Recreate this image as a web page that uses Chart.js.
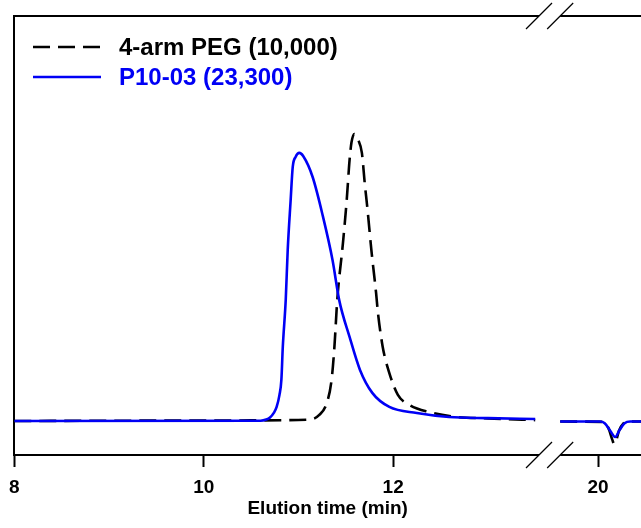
<!DOCTYPE html>
<html>
<head>
<meta charset="utf-8">
<script src="https://cdn.jsdelivr.net/npm/chart.js@4"></script>
<style>
  html, body { margin: 0; padding: 0; background: #fff; }
  #wrap { width: 641px; height: 528px; }
</style>
</head>
<body>
<div id="wrap"><canvas id="gpcChart" width="641" height="528"></canvas></div>
<script>
// GPC traces (elution time in min, detector signal normalised to PEG peak = 100)
const pegTime = [8.0, 10.5, 11.12, 11.22, 11.30, 11.35, 11.38, 11.41, 11.47, 11.51, 11.54, 11.56, 11.59, 11.63, 11.67, 11.70, 11.73, 11.77, 11.82, 11.84, 11.89, 11.96, 12.05, 12.17, 12.38, 12.67, 13.0, 13.5,
                 19.6, 20.05, 20.11, 20.15, 20.17, 20.19, 20.22, 20.27, 20.32, 20.62];
const pegSignal = [0, 0.2, 0.5, 2.1, 6.3, 14.3, 25.8, 42.2, 62.0, 77.0, 90.9, 97.0, 100, 98.0, 93.4, 82.9, 73.5, 59.6, 44.6, 37.6, 25.8, 16.7, 9.1, 5.6, 3.1, 1.4, 0.9, 0.3,
                   -0.2, -0.3, -2.5, -6.5, -8.0, -7.0, -3.5, -0.8, -0.2, -0.2];

const polyTime = [8.0, 10.60, 10.66, 10.70, 10.74, 10.77, 10.80, 10.82, 10.835, 10.866, 10.887, 10.918, 10.94, 10.97, 11.01, 11.05, 11.15, 11.26, 11.36, 11.43, 11.54, 11.65, 11.78, 11.96, 12.25, 12.59, 13.0, 13.5,
                  19.6, 20.02, 20.07, 20.13, 20.18, 20.23, 20.28, 20.34, 20.62];
const polySignal = [0, 0.1, 0.5, 1.2, 2.8, 4.9, 9.1, 14.3, 25.8, 42.2, 59.6, 77.0, 88.5, 92.0, 93.4, 92.3, 85.0, 71.1, 56.1, 42.2, 29.3, 17.8, 9.8, 4.9, 2.8, 1.4, 1.0, 0.7,
                    -0.2, -0.2, -0.8, -3.5, -5.6, -3.0, -0.8, -0.2, -0.2];

const seriesLabels = ['4-arm PEG (10,000)', 'P10-03 (23,300)'];
const xTickValues = [8, 10, 12, 20];

// broken x axis: everything after the break is shifted left
const BREAK_START = 13.5;
const BREAK_END = 19.6;
const SHIFT = 5.8364;
const X_MIN = 8;
const X_MAX = 14.617;

const BLUE = '#0000f5';

function toAxis(t) {
  return t >= BREAK_END ? t - SHIFT : t;
}

function fromAxis(v) {
  return v > BREAK_START + 0.01 ? v + SHIFT : v;
}

function buildPoints(times, values) {
  const pts = [];
  for (let i = 0; i < times.length; i++) {
    if (i > 0 && times[i - 1] <= BREAK_START && times[i] >= BREAK_END) {
      pts.push({ x: BREAK_START + 0.1, y: null });
    }
    pts.push({ x: toAxis(times[i]), y: values[i] });
  }
  return pts;
}

// axis frame with the break marks
const brokenFrame = {
  id: 'brokenFrame',
  afterDraw(chart) {
    const { ctx, chartArea } = chart;
    const xs = chart.scales.x;
    const gapL = xs.getPixelForValue(BREAK_START + 0.04);
    const gapR = xs.getPixelForValue(BREAK_END - SHIFT);
    ctx.save();
    ctx.strokeStyle = '#000';
    ctx.lineWidth = 2;
    [chartArea.top, chartArea.bottom].forEach(y => {
      ctx.beginPath();
      ctx.moveTo(chartArea.left - 1, y);
      ctx.lineTo(gapL, y);
      ctx.moveTo(gapR, y);
      ctx.lineTo(chartArea.right, y);
      ctx.stroke();
    });
    ctx.lineWidth = 1.2;
    [chartArea.top, chartArea.bottom].forEach(y => {
      [gapL, gapR].forEach(x => {
        ctx.beginPath();
        ctx.moveTo(x - 13, y + 13);
        ctx.lineTo(x + 13, y - 13);
        ctx.stroke();
      });
    });
    ctx.restore();
  }
};

// legend drawn inside the plot, top left
const insideLegend = {
  id: 'insideLegend',
  afterDraw(chart) {
    const { ctx } = chart;
    const rows = [47, 77];
    ctx.save();
    ctx.font = 'bold 24px "Liberation Sans", Arial, sans-serif';
    ctx.textBaseline = 'middle';
    chart.data.datasets.forEach((ds, i) => {
      const y = rows[i];
      ctx.strokeStyle = ds.borderColor;
      ctx.lineWidth = ds.borderWidth;
      ctx.setLineDash(ds.borderDash || []);
      ctx.beginPath();
      ctx.moveTo(33, y);
      ctx.lineTo(101, y);
      ctx.stroke();
      ctx.setLineDash([]);
      ctx.fillStyle = ds.borderColor;
      ctx.fillText(ds.label, 119, y + 1);
    });
    ctx.restore();
  }
};

Chart.defaults.font.family = '"Liberation Sans", Arial, Helvetica, sans-serif';
Chart.defaults.color = '#000';

const ctx = document.getElementById('gpcChart').getContext('2d');
new Chart(ctx, {
  type: 'line',
  data: {
    datasets: [
      {
        label: seriesLabels[0],
        data: buildPoints(pegTime, pegSignal),
        borderColor: '#000',
        borderWidth: 2.6,
        borderDash: [17, 8],
        pointRadius: 0,
        cubicInterpolationMode: 'monotone',
        spanGaps: false,
        order: 1
      },
      {
        label: seriesLabels[1],
        data: buildPoints(polyTime, polySignal),
        borderColor: BLUE,
        borderWidth: 2.6,
        pointRadius: 0,
        cubicInterpolationMode: 'monotone',
        spanGaps: false,
        order: 0
      }
    ]
  },
  options: {
    responsive: false,
    animation: false,
    events: [],
    layout: { padding: { top: 16, left: 0, right: 0, bottom: 0 } },
    plugins: {
      legend: { display: false },
      tooltip: { enabled: false }
    },
    scales: {
      x: {
        type: 'linear',
        min: X_MIN,
        max: X_MAX,
        afterBuildTicks: scale => {
          scale.ticks = xTickValues.map(v => ({ value: toAxis(v) }));
        },
        afterFit: scale => { scale.height = 73; },
        border: { display: false },
        grid: {
          drawOnChartArea: false,
          drawTicks: true,
          tickLength: 12,
          tickWidth: 2,
          tickColor: '#000'
        },
        ticks: {
          autoSkip: false,
          maxRotation: 0,
          padding: 9,
          color: '#000',
          font: { size: 19, weight: 'bold' },
          callback: value => String(Math.round(fromAxis(value)))
        },
        title: {
          display: true,
          text: 'Elution time (min)',
          color: '#000',
          font: { size: 19, weight: 'bold' },
          padding: { top: 0, bottom: 8 }
        }
      },
      y: {
        type: 'linear',
        min: -11.85,
        max: 141.1,
        afterFit: scale => { scale.width = 14; },
        border: { display: true, color: '#000', width: 2 },
        grid: { display: false, drawTicks: false },
        ticks: { display: false }
      }
    }
  },
  plugins: [brokenFrame, insideLegend]
});
</script>
</body>
</html>
